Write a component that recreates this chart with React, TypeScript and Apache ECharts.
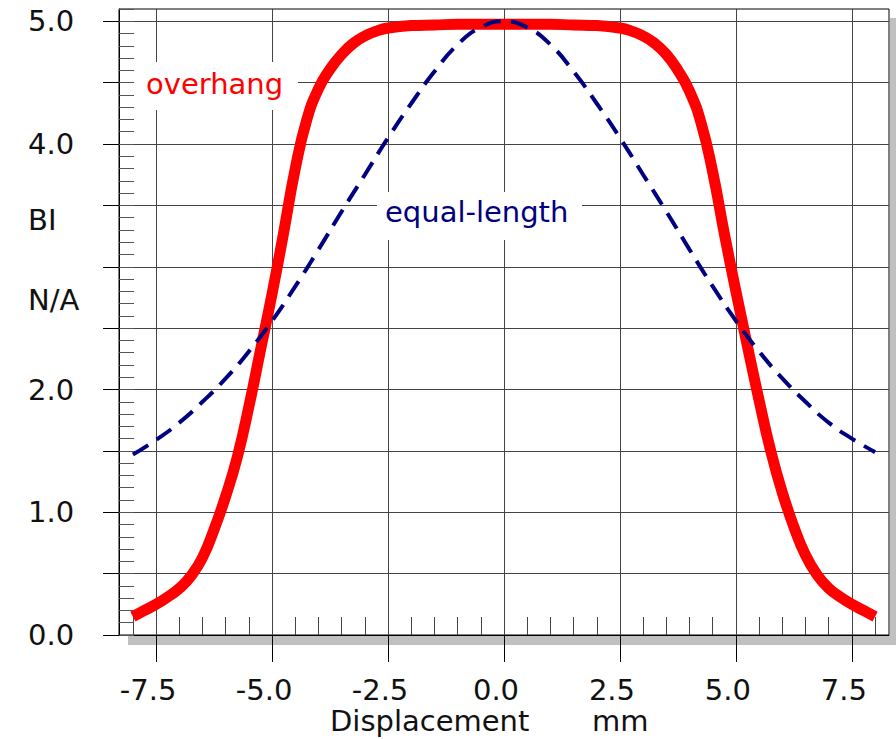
import React, { useEffect, useRef } from 'react';
import * as echarts from 'echarts';

// ---- data ----
const RED_X = [-8, -7.75, -7.5, -7.25, -7, -6.75, -6.5, -6.25, -6, -5.75, -5.5, -5.25, -5, -4.75, -4.5, -4.25, -4, -3.75, -3.5, -3.25, -3, -2.75, -2.5, -2, -1.5, -1, -0.5, 0, 0.5, 1, 1.5, 2, 2.5, 2.75, 3, 3.25, 3.5, 3.75, 4, 4.25, 4.5, 4.75, 5, 5.25, 5.5, 5.75, 6, 6.25, 6.5, 6.75, 7, 7.25, 7.5, 7.75, 8];
const RED_Y = [0.15, 0.2, 0.25, 0.31, 0.38, 0.48, 0.63, 0.86, 1.13, 1.45, 1.86, 2.32, 2.78, 3.28, 3.8, 4.2, 4.45, 4.61, 4.73, 4.82, 4.88, 4.92, 4.945, 4.965, 4.97, 4.975, 4.975, 4.975, 4.975, 4.975, 4.97, 4.965, 4.945, 4.92, 4.88, 4.82, 4.73, 4.6, 4.43, 4.17, 3.77, 3.27, 2.8, 2.35, 1.91, 1.5, 1.16, 0.88, 0.65, 0.49, 0.38, 0.31, 0.25, 0.2, 0.15];

const BLUE_X = [-8, -7.5, -7, -6.5, -6, -5.5, -5, -4.5, -4, -3.5, -3, -2.5, -2, -1.5, -1, -0.5, 0, 0.5, 1, 1.5, 2, 2.5, 3, 3.5, 4, 4.5, 5, 5.5, 6, 6.5, 7, 7.5, 8];
const BLUE_Y = [1.47, 1.59, 1.73, 1.9, 2.09, 2.31, 2.56, 2.84, 3.14, 3.45, 3.75, 4.05, 4.33, 4.59, 4.81, 4.95, 5.0, 4.95, 4.81, 4.59, 4.33, 4.05, 3.75, 3.45, 3.14, 2.84, 2.56, 2.31, 2.09, 1.9, 1.73, 1.6, 1.49];

const X_TICKS = [-7.5, -5, -2.5, 0, 2.5, 5, 7.5];
const X_MINOR_TICKS = [-8, -7.5, -7, -6.5, -6, -5.5, -5, -4.5, -4, -3.5, -3, -2.5, -2, -1.5, -1, -0.5, 0, 0.5, 1, 1.5, 2, 2.5, 3, 3.5, 4, 4.5, 5, 5.5, 6, 6.5, 7, 7.5, 8];
const Y_TICKS = [0, 0.5, 1, 1.5, 2, 2.5, 3, 3.5, 4, 4.5, 5];
const Y_LABELS = [0, 1, 2, 4, 5];

const SERIES_NAMES = ['overhang', 'equal-length'];
const Y_TITLE = ['BI', 'N/A'];
const X_TITLE = ['Displacement', 'mm'];

const FONT = 'DejaVu Sans';
const FS = 29;
const TXT = '#111';

export default function App() {
  const ref = useRef<HTMLDivElement>(null);
  useEffect(() => {
    if (!ref.current) return;
    const chart = echarts.init(ref.current, undefined, { renderer: 'svg' });
    const fmt = (v: number) => Number(v).toFixed(1);
    const option: any = {
      animation: false,
      grid: { left: 119, top: 9, right: 7, bottom: 104, show: true, borderColor: '#000', borderWidth: 1, backgroundColor: 'transparent' },
      xAxis: [
        {
          type: 'value', min: -8.3, max: 8.3, position: 'bottom',
          axisLine: { show: true, onZero: false, lineStyle: { color: '#000', width: 1 } },
          axisTick: { show: true, customValues: X_TICKS, length: 27, lineStyle: { color: '#000' } },
          axisLabel: { show: true, customValues: X_TICKS, formatter: fmt, margin: 40, padding: [0, 16, 0, 0], fontFamily: FONT, fontSize: FS, color: TXT },
          splitLine: { show: true, lineStyle: { color: '#444', width: 1 } },
        },
        {
          type: 'value', min: -8.3, max: 8.3, position: 'bottom',
          axisLine: { show: false, onZero: false },
          axisTick: { show: true, inside: true, customValues: X_MINOR_TICKS, length: 18, lineStyle: { color: '#444' } },
          axisLabel: { show: false },
          splitLine: { show: false },
        },
      ],
      yAxis: [
        {
          type: 'value', min: 0, max: 5.1, interval: 0.5, position: 'left',
          axisLine: { show: true, onZero: false, lineStyle: { color: '#000', width: 1 } },
          axisTick: { show: true, customValues: Y_TICKS, length: 16, lineStyle: { color: '#000' } },
          axisLabel: { show: true, customValues: Y_LABELS, formatter: fmt, align: 'left', margin: 91, padding: [12, 0, 0, 0], fontFamily: FONT, fontSize: FS, color: TXT },
          splitLine: { show: true, lineStyle: { color: '#444', width: 1 } },
        },
        {
          type: 'value', min: 0, max: 5.1, interval: 0.1, position: 'left',
          axisLine: { show: false, onZero: false },
          axisTick: { show: true, inside: true, length: 15, lineStyle: { color: '#555' } },
          axisLabel: { show: false },
          splitLine: { show: false },
        },
      ],
      series: [
        {
          name: SERIES_NAMES[0], type: 'line', xAxisIndex: 0, yAxisIndex: 0,
          data: RED_X.map((x, i) => [x, RED_Y[i]]),
          showSymbol: false, smooth: true, z: 3,
          lineStyle: { color: '#ff0000', width: 11 },
        },
        {
          name: SERIES_NAMES[1], type: 'line', xAxisIndex: 0, yAxisIndex: 0,
          data: BLUE_X.map((x, i) => [x, BLUE_Y[i]]),
          showSymbol: false, smooth: true, z: 4,
          lineStyle: { color: '#000080', width: 4, type: [18, 10] },
        },
      ],
      graphic: [
        { type: 'rect', z: -1, silent: true, shape: { x: 128, y: 636, width: 770, height: 9 }, style: { fill: '#c0c0c0' } },
        { type: 'rect', z: -1, silent: true, shape: { x: 890, y: 18, width: 9, height: 627 }, style: { fill: '#c0c0c0' } },
        { type: 'rect', z: 50, silent: true, shape: { x: 134, y: 62, width: 164, height: 48 }, style: { fill: '#fff' } },
        { type: 'text', z: 51, x: 146, y: 84, style: { text: SERIES_NAMES[0], fill: '#ff0000', fontSize: FS, fontFamily: FONT, align: 'left', verticalAlign: 'middle' } },
        { type: 'rect', z: 50, silent: true, shape: { x: 377, y: 192, width: 205, height: 48 }, style: { fill: '#fff' } },
        { type: 'text', z: 51, x: 385, y: 212, style: { text: SERIES_NAMES[1], fill: '#000080', fontSize: FS, fontFamily: FONT, align: 'left', verticalAlign: 'middle' } },
        { type: 'text', z: 51, x: 28, y: 220, style: { text: Y_TITLE[0], fill: TXT, fontSize: FS, fontFamily: FONT, align: 'left', verticalAlign: 'middle' } },
        { type: 'text', z: 51, x: 28, y: 300, style: { text: Y_TITLE[1], fill: TXT, fontSize: FS, fontFamily: FONT, align: 'left', verticalAlign: 'middle' } },
        { type: 'text', z: 51, x: 330, y: 721, style: { text: X_TITLE[0], fill: TXT, fontSize: FS, fontFamily: FONT, align: 'left', verticalAlign: 'middle' } },
        { type: 'text', z: 51, x: 592, y: 721, style: { text: X_TITLE[1], fill: TXT, fontSize: FS, fontFamily: FONT, align: 'left', verticalAlign: 'middle' } },
      ],
    };
    chart.setOption(option);
    return () => chart.dispose();
  }, []);
  return <div ref={ref} style={{ position: 'fixed', left: 0, top: 0, width: 896, height: 739, background: '#fff' }} />;
}
